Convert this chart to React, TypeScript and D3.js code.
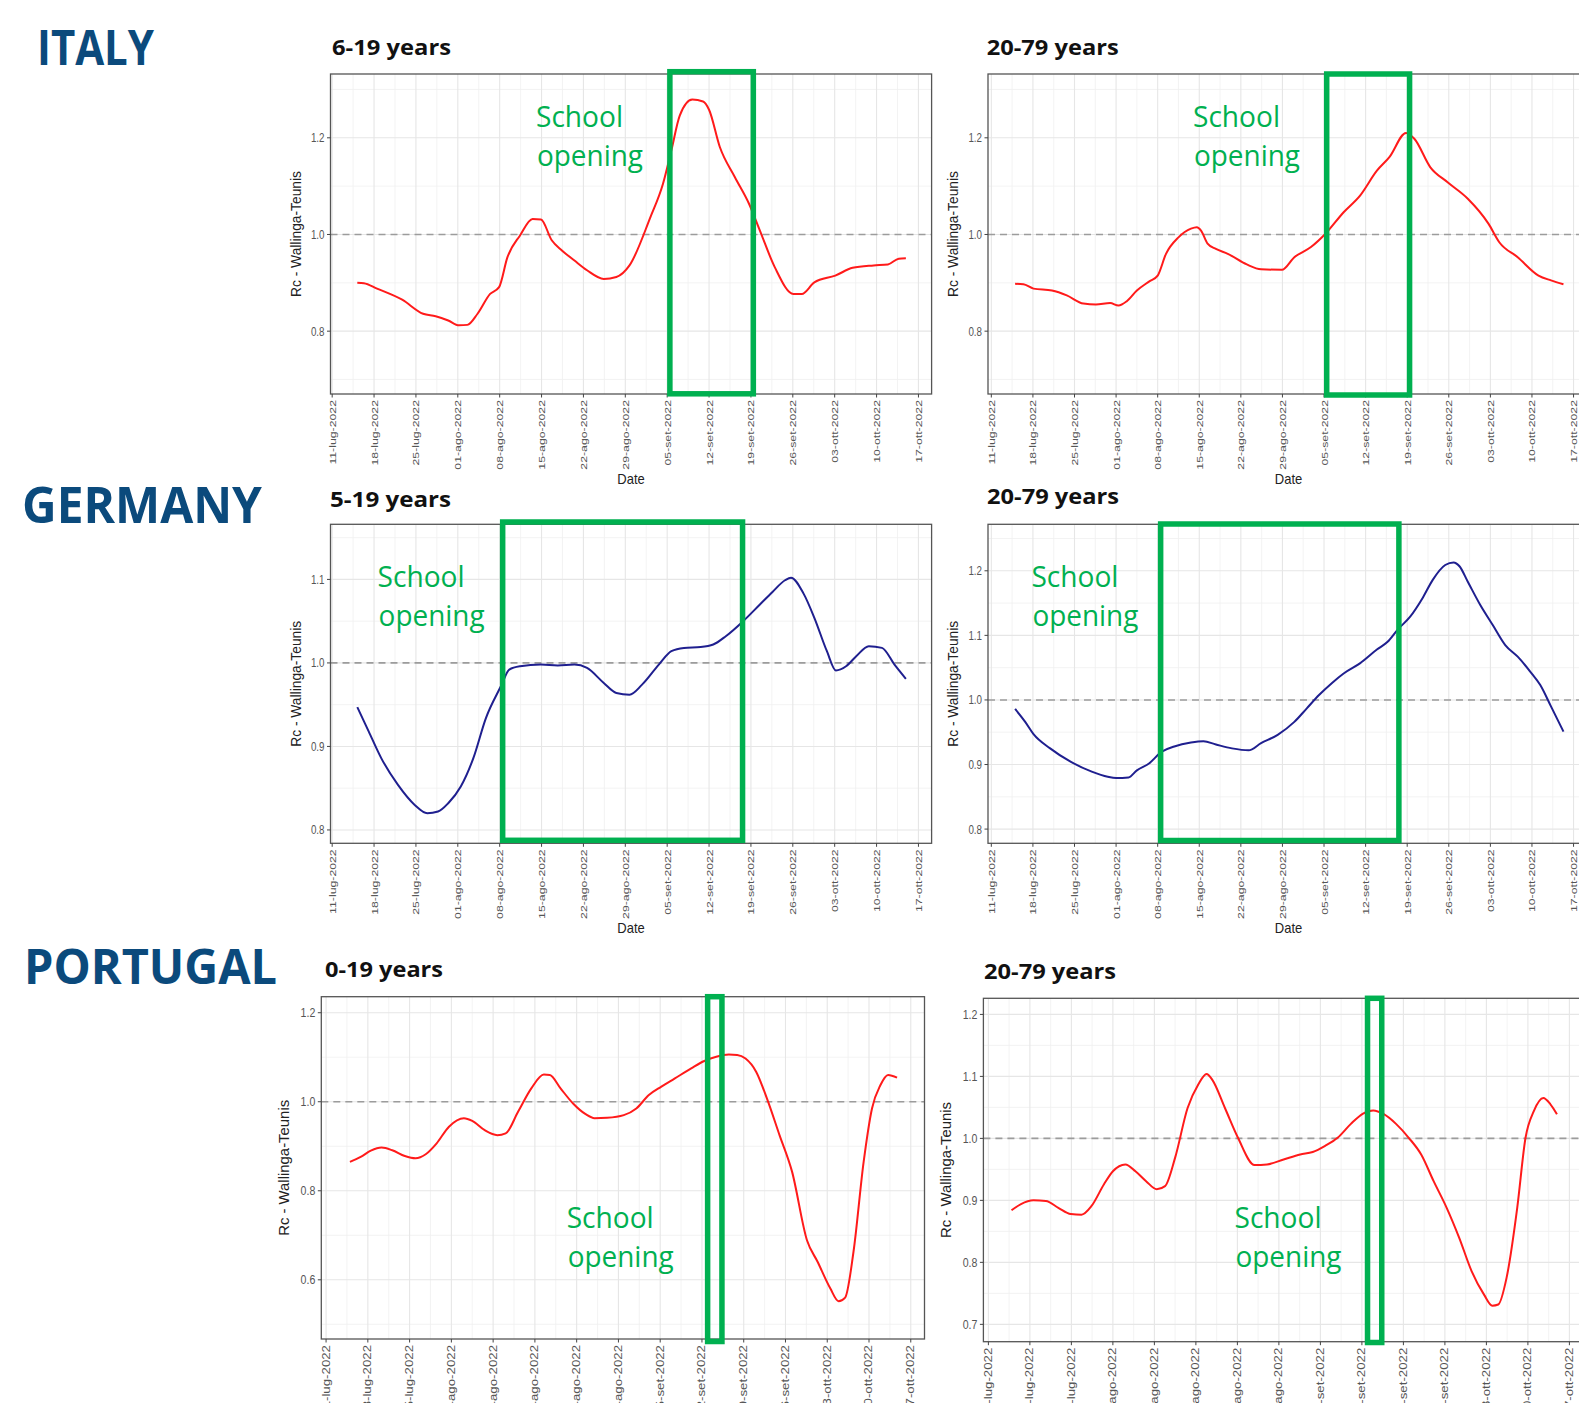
import React from "react";
import * as d3 from "d3";

// Each point: [days since 11 Jul 2022, Rc (Wallinga-Teunis)]
type Pt = [number, number];

const DATE_TICK_LABELS = [
  "11-lug-2022", "18-lug-2022", "25-lug-2022", "01-ago-2022", "08-ago-2022",
  "15-ago-2022", "22-ago-2022", "29-ago-2022", "05-set-2022", "12-set-2022",
  "19-set-2022", "26-set-2022", "03-ott-2022", "10-ott-2022", "17-ott-2022",
];
const DAYS_PER_TICK = 7;

const COUNTRIES = ["ITALY", "GERMANY", "PORTUGAL"];
const AGE_GROUPS = [
  ["6-19 years", "20-79 years"],
  ["5-19 years", "20-79 years"],
  ["0-19 years", "20-79 years"],
];

const ITALY_6_19: Pt[] = [
  [4.2, 0.900], [5.3, 0.899], [7.5, 0.888], [11.7, 0.865], [15.2, 0.836], [17.3, 0.831],
  [19.4, 0.822], [21.2, 0.812], [22.6, 0.813], [24.3, 0.836], [26.4, 0.877], [27.9, 0.891],
  [29.3, 0.953], [31.4, 0.998], [33.5, 1.032], [34.9, 1.031], [36.7, 0.988], [38.4, 0.967],
  [40.5, 0.946], [42.6, 0.926], [45.4, 0.908], [47.5, 0.912], [49.7, 0.936], [53.2, 1.036],
  [55.3, 1.105], [56.7, 1.174], [58.1, 1.246], [60.2, 1.279], [62.0, 1.275], [63.0, 1.258],
  [64.8, 1.181], [67.3, 1.119], [69.7, 1.063], [71.5, 1.008], [74.0, 0.932], [77.1, 0.877],
  [78.5, 0.877], [80.6, 0.901], [84.1, 0.915], [87.0, 0.931], [90.5, 0.936], [92.9, 0.938],
  [94.7, 0.950], [95.9, 0.951],
];

const ITALY_20_79: Pt[] = [
  [4.0, 0.898], [5.4, 0.897], [7.1, 0.888], [10.2, 0.884], [12.7, 0.874], [15.5, 0.857],
  [17.6, 0.855], [20.0, 0.858], [21.4, 0.853], [22.8, 0.862], [24.5, 0.884], [26.6, 0.903],
  [28.0, 0.915], [29.4, 0.960], [31.5, 0.994], [33.6, 1.012], [34.6, 1.015], [35.3, 1.008],
  [36.4, 0.981], [37.8, 0.970], [39.8, 0.960], [43.0, 0.938], [45.4, 0.928], [48.9, 0.927],
  [51.0, 0.953], [53.8, 0.974], [56.2, 1.001], [59.3, 1.046], [62.1, 1.081], [64.9, 1.132],
  [67.0, 1.160], [69.8, 1.210], [71.2, 1.198], [73.9, 1.139], [76.8, 1.108], [80.2, 1.074],
  [83.7, 1.022], [85.5, 0.984], [88.6, 0.953], [92.1, 0.915], [94.2, 0.905], [96.3, 0.897],
];

const GERMANY_5_19: Pt[] = [
  [4.2, 0.947], [6.1, 0.918], [8.2, 0.886], [11.0, 0.854], [13.8, 0.830], [15.9, 0.820],
  [17.7, 0.822], [19.4, 0.832], [21.5, 0.852], [23.6, 0.886], [25.7, 0.934], [28.2, 0.972],
  [29.6, 0.992], [31.4, 0.996], [34.9, 0.998], [37.7, 0.997], [40.5, 0.998], [42.6, 0.994],
  [45.4, 0.976], [47.5, 0.964], [49.7, 0.962], [51.8, 0.974], [54.6, 0.998], [56.7, 1.014],
  [58.8, 1.018], [61.6, 1.019], [63.7, 1.022], [65.8, 1.032], [68.7, 1.050], [71.5, 1.070],
  [73.6, 1.085], [75.7, 1.099], [76.7, 1.102], [78.8, 1.083], [80.6, 1.054], [82.7, 1.014],
  [84.2, 0.991], [85.9, 0.996], [87.6, 1.008], [89.7, 1.020], [91.9, 1.018], [94.0, 0.998],
  [95.9, 0.981],
];

const GERMANY_20_79: Pt[] = [
  [4.0, 0.986], [5.7, 0.966], [7.1, 0.947], [9.9, 0.925], [13.4, 0.904], [16.9, 0.889],
  [19.6, 0.881], [21.0, 0.879], [23.1, 0.880], [24.5, 0.891], [26.6, 0.902], [28.7, 0.920],
  [30.8, 0.928], [33.6, 0.934], [35.7, 0.936], [37.8, 0.931], [40.5, 0.925], [43.3, 0.922],
  [45.4, 0.933], [48.2, 0.946], [51.0, 0.966], [53.1, 0.987], [55.2, 1.008], [57.3, 1.026],
  [59.3, 1.041], [62.1, 1.057], [64.9, 1.078], [66.7, 1.090], [68.4, 1.109], [70.5, 1.129],
  [72.6, 1.158], [74.3, 1.186], [76.4, 1.209], [77.8, 1.213], [78.8, 1.207], [80.2, 1.183],
  [82.3, 1.147], [84.4, 1.116], [86.5, 1.085], [88.6, 1.067], [90.7, 1.044], [92.4, 1.023],
  [94.2, 0.990], [96.3, 0.951],
];

const PORTUGAL_0_19: Pt[] = [
  [4.0, 0.865], [5.8, 0.876], [7.5, 0.890], [9.3, 0.897], [11.1, 0.891], [13.2, 0.878],
  [15.0, 0.873], [16.7, 0.882], [18.5, 0.906], [20.6, 0.944], [23.1, 0.963], [24.5, 0.957],
  [26.6, 0.936], [28.7, 0.925], [30.1, 0.929], [32.2, 0.978], [34.4, 1.030], [36.5, 1.061],
  [37.5, 1.060], [39.3, 1.030], [41.4, 0.996], [43.5, 0.972], [45.0, 0.963], [47.1, 0.964],
  [49.9, 0.970], [52.0, 0.985], [54.1, 1.015], [56.2, 1.034], [58.4, 1.052], [61.2, 1.075],
  [63.3, 1.091], [65.4, 1.101], [67.5, 1.106], [68.9, 1.105], [70.3, 1.097], [72.1, 1.067],
  [73.9, 1.007], [76.0, 0.925], [78.1, 0.843], [80.6, 0.689], [82.4, 0.640], [84.5, 0.581],
  [85.9, 0.552], [87.0, 0.560], [88.4, 0.663], [90.1, 0.865], [91.5, 0.985], [92.9, 1.037],
  [94.2, 1.060], [95.7, 1.054],
];

const PORTUGAL_20_79: Pt[] = [
  [3.9, 0.884], [5.5, 0.894], [7.6, 0.900], [9.7, 0.899], [11.8, 0.888], [13.9, 0.878],
  [15.7, 0.877], [17.4, 0.891], [19.5, 0.926], [21.0, 0.947], [23.1, 0.958], [24.8, 0.947],
  [26.6, 0.931], [28.4, 0.918], [29.8, 0.923], [31.5, 0.969], [33.6, 1.049], [35.4, 1.087],
  [36.8, 1.104], [37.8, 1.094], [39.9, 1.049], [42.1, 1.001], [44.9, 0.957], [47.0, 0.958],
  [49.8, 0.966], [52.6, 0.974], [54.7, 0.978], [56.8, 0.988], [58.9, 1.001], [61.1, 1.023],
  [63.2, 1.040], [64.9, 1.045], [66.7, 1.039], [68.8, 1.023], [70.9, 1.001], [73.0, 0.974],
  [75.1, 0.931], [77.3, 0.888], [79.4, 0.840], [81.5, 0.786], [83.6, 0.748], [85.0, 0.730],
  [86.0, 0.732], [87.4, 0.775], [89.2, 0.888], [90.6, 1.001], [92.0, 1.044], [93.6, 1.065],
  [94.8, 1.055], [95.9, 1.039],
];

// School opening windows, in days since 11 Jul 2022
const SCHOOL_OPENING: [number, number][] = [[56.45, 70.4], [28.5, 68.6], [63.95, 66.35]];

const Y_MAJOR = {
  it: [0.8, 1.0, 1.2],
  deYoung: [0.8, 0.9, 1.0, 1.1],
  deAdult: [0.8, 0.9, 1.0, 1.1, 1.2],
  ptYoung: [0.6, 0.8, 1.0, 1.2],
  ptAdult: [0.7, 0.8, 0.9, 1.0, 1.1, 1.2],
};
const Y_MINOR = {
  it: [0.7, 0.9, 1.1, 1.3],
  deYoung: [0.85, 0.95, 1.05, 1.15],
  deAdult: [0.85, 0.95, 1.05, 1.15, 1.25],
  ptYoung: [0.5, 0.7, 0.9, 1.1],
  ptAdult: [0.75, 0.85, 0.95, 1.05, 1.15],
};

const RED = "#ff1a1a";
const NAVY = "#1f1f8f";
const GREEN = "#00b050";
const TITLE_BLUE = "#0b4a7c";
const AXIS_FONT = "'Liberation Sans', Arial, sans-serif";
const HEAD_FONT = "'Open Sans', 'Noto Sans', sans-serif";

interface PanelSpec {
  row: number;
  col: number;
  series: Pt[];
  color: string;
  x0: number; x1: number; y0: number; y1: number;
  days: [number, number];
  yDomain: [number, number];
  yMajor: number[];
  yMinor: number[];
  boxTop: number; boxBottom: number;
  title: { x: number; y: number; len: number };
  school: { x: number; y: number };
  fontScale: number;
}

const PANELS: PanelSpec[] = [
  {
    row: 0, col: 0, series: ITALY_6_19, color: RED,
    x0: 330.5, x1: 931.6, y0: 74, y1: 394, days: [-0.28, 100.2], yDomain: [0.67, 1.332],
    yMajor: Y_MAJOR.it, yMinor: Y_MINOR.it, boxTop: 71.7, boxBottom: 393.8,
    title: { x: 332, y: 55, len: 119 }, school: { x: 536, y: 127 }, fontScale: 1,
  },
  {
    row: 0, col: 1, series: ITALY_20_79, color: RED,
    x0: 988, x1: 1589, y0: 74, y1: 394, days: [-0.56, 100.6], yDomain: [0.67, 1.332],
    yMajor: Y_MAJOR.it, yMinor: Y_MINOR.it, boxTop: 74, boxBottom: 395,
    title: { x: 986.7, y: 55, len: 132 }, school: { x: 1193, y: 127 }, fontScale: 1,
  },
  {
    row: 1, col: 0, series: GERMANY_5_19, color: NAVY,
    x0: 330.5, x1: 931.6, y0: 524.3, y1: 843.3, days: [-0.28, 100.2], yDomain: [0.784, 1.166],
    yMajor: Y_MAJOR.deYoung, yMinor: Y_MINOR.deYoung, boxTop: 522, boxBottom: 840.3,
    title: { x: 330, y: 507, len: 121 }, school: { x: 377.6, y: 587 }, fontScale: 1,
  },
  {
    row: 1, col: 1, series: GERMANY_20_79, color: NAVY,
    x0: 988, x1: 1589, y0: 524.3, y1: 843.3, days: [-0.56, 100.6], yDomain: [0.778, 1.272],
    yMajor: Y_MAJOR.deAdult, yMinor: Y_MINOR.deAdult, boxTop: 524, boxBottom: 840.5,
    title: { x: 987, y: 504, len: 132 }, school: { x: 1031.4, y: 587 }, fontScale: 1,
  },
  {
    row: 2, col: 0, series: PORTUGAL_0_19, color: RED,
    x0: 321.3, x1: 924.5, y0: 996.7, y1: 1339, days: [-0.8, 100.3], yDomain: [0.467, 1.236],
    yMajor: Y_MAJOR.ptYoung, yMinor: Y_MINOR.ptYoung, boxTop: 996.7, boxBottom: 1341.5,
    title: { x: 325, y: 977, len: 118 }, school: { x: 566.7, y: 1227.5 }, fontScale: 1.08,
  },
  {
    row: 2, col: 1, series: PORTUGAL_20_79, color: RED,
    x0: 983.4, x1: 1586, y0: 998.3, y1: 1341.7, days: [-0.84, 100.8], yDomain: [0.672, 1.226],
    yMajor: Y_MAJOR.ptAdult, yMinor: Y_MINOR.ptAdult, boxTop: 998.3, boxBottom: 1342.5,
    title: { x: 984, y: 978.5, len: 132 }, school: { x: 1234.5, y: 1227.5 }, fontScale: 1.08,
  },
];

const COUNTRY_LABELS = [
  { x: 37, y: 65, size: 49, len: 117 },
  { x: 22, y: 522.7, size: 51, len: 240 },
  { x: 24, y: 984, size: 48, len: 253 },
];

function Panel({ p }: { p: PanelSpec }) {
  const x = d3.scaleLinear().domain(p.days).range([p.x0, p.x1]);
  const y = d3.scaleLinear().domain(p.yDomain).range([p.y1, p.y0]);
  const line = d3
    .line<Pt>()
    .x((d) => x(d[0]))
    .y((d) => y(d[1]))
    .curve(d3.curveMonotoneX);

  const majorX = DATE_TICK_LABELS.map((_, i) => i * DAYS_PER_TICK);
  const minorX = majorX
    .map((d) => d + DAYS_PER_TICK / 2)
    .filter((d) => d > p.days[0] && d < p.days[1]);
  const [b0, b1] = SCHOOL_OPENING[p.row];
  const fs = p.fontScale;
  const cx = (p.x0 + p.x1) / 2;
  const cy = (p.y0 + p.y1) / 2;

  return (
    <g>
      <rect x={p.x0} y={p.y0} width={p.x1 - p.x0} height={p.y1 - p.y0} fill="#fff" />
      {/* grid */}
      {minorX.map((d) => (
        <line key={"mx" + d} x1={x(d)} x2={x(d)} y1={p.y0} y2={p.y1} stroke="#f0f0f0" strokeWidth={0.8} />
      ))}
      {p.yMinor.map((v) => (
        <line key={"my" + v} x1={p.x0} x2={p.x1} y1={y(v)} y2={y(v)} stroke="#f0f0f0" strokeWidth={0.8} />
      ))}
      {majorX.map((d) => (
        <line key={"Mx" + d} x1={x(d)} x2={x(d)} y1={p.y0} y2={p.y1} stroke="#e6e6e6" strokeWidth={1.1} />
      ))}
      {p.yMajor.map((v) => (
        <line key={"My" + v} x1={p.x0} x2={p.x1} y1={y(v)} y2={y(v)} stroke="#e6e6e6" strokeWidth={1.1} />
      ))}
      {/* Rc = 1 threshold */}
      <line
        x1={p.x0} x2={p.x1} y1={y(1)} y2={y(1)}
        stroke="#9c9c9c" strokeWidth={1.6} strokeDasharray="7 5"
      />
      <path d={line(p.series) || ""} fill="none" stroke={p.color} strokeWidth={2} strokeLinejoin="round" />
      <rect
        x={p.x0} y={p.y0} width={p.x1 - p.x0} height={p.y1 - p.y0}
        fill="none" stroke="#555" strokeWidth={1.3}
      />
      {/* y axis */}
      {p.yMajor.map((v) => (
        <g key={"yt" + v}>
          <line x1={p.x0 - 3.5} x2={p.x0} y1={y(v)} y2={y(v)} stroke="#444" strokeWidth={1} />
          <text
            transform={`translate(${p.x0 - 6},${y(v)}) scale(1,1.25)`}
            textAnchor="end" dominantBaseline="central"
            fontFamily={AXIS_FONT} fontSize={9.8 * fs} fill="#555"
          >
            {v.toFixed(1)}
          </text>
        </g>
      ))}
      <text
        transform={`translate(${p.x0 - 30 * fs},${cy}) rotate(-90)`}
        textAnchor="middle" fontFamily={AXIS_FONT} fontSize={13.8 * fs} fill="#222"
      >
        Rc - Wallinga-Teunis
      </text>
      {/* x axis */}
      {majorX.map((d, i) => (
        <g key={"xt" + d}>
          <line x1={x(d)} x2={x(d)} y1={p.y1} y2={p.y1 + 3.5} stroke="#444" strokeWidth={1} />
          <text
            transform={`translate(${x(d)},${p.y1 + 6}) rotate(-90) scale(1.28,1)`}
            textAnchor="end" dominantBaseline="central"
            fontFamily={AXIS_FONT} fontSize={9.6 * fs} fill="#555"
          >
            {DATE_TICK_LABELS[i]}
          </text>
        </g>
      ))}
      <text
        transform={`translate(${cx},${p.y1 + 90}) scale(1,1.15)`}
        textAnchor="middle" fontFamily={AXIS_FONT} fontSize={13} fill="#222"
      >
        Date
      </text>
      {/* panel heading */}
      <text
        x={p.title.x} y={p.title.y} fontFamily={HEAD_FONT} fontWeight={700} fontSize={22}
        fill="#111" textLength={p.title.len} lengthAdjust="spacingAndGlyphs"
      >
        {AGE_GROUPS[p.row][p.col]}
      </text>
      {/* school opening window */}
      <rect
        x={x(b0)} y={p.boxTop} width={x(b1) - x(b0)} height={p.boxBottom - p.boxTop}
        fill="none" stroke={GREEN} strokeWidth={5.5}
      />
      <text
        x={p.school.x} y={p.school.y} fontFamily={HEAD_FONT} fontSize={30} fill={GREEN}
        textLength={87} lengthAdjust="spacingAndGlyphs"
      >
        School
      </text>
      <text
        x={p.school.x + 1} y={p.school.y + 39} fontFamily={HEAD_FONT} fontSize={30} fill={GREEN}
        textLength={106} lengthAdjust="spacingAndGlyphs"
      >
        opening
      </text>
    </g>
  );
}

export default function App() {
  return (
    <>
      <style>{`html,body{margin:0;padding:0;background:#fff;}`}</style>
      <svg width={1579} height={1403} style={{ display: "block", background: "#fff" }}>
        {COUNTRIES.map((c, i) => (
          <text
            key={c}
            x={COUNTRY_LABELS[i].x} y={COUNTRY_LABELS[i].y}
            fontFamily={HEAD_FONT} fontWeight={700} fontSize={COUNTRY_LABELS[i].size}
            fill={TITLE_BLUE} textLength={COUNTRY_LABELS[i].len} lengthAdjust="spacingAndGlyphs"
          >
            {c}
          </text>
        ))}
        {PANELS.map((p) => (
          <Panel key={`${p.row}-${p.col}`} p={p} />
        ))}
      </svg>
    </>
  );
}
